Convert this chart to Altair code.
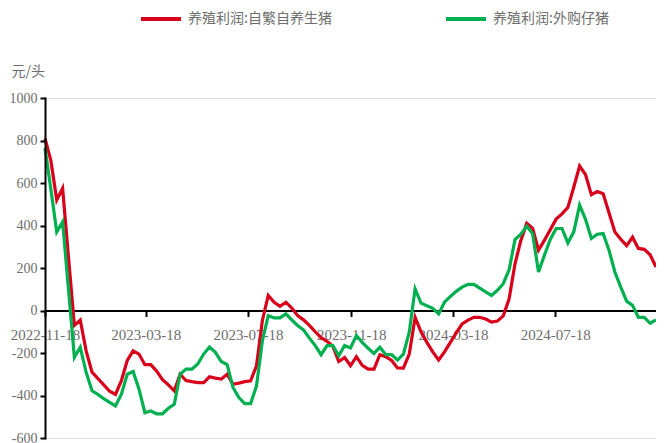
import altair as alt
import pandas as pd

start_date = "2022-11-18"
tick_dates = ["2022-11-18", "2023-03-18", "2023-07-18", "2023-11-18", "2024-03-18", "2024-07-18"]
y_ticks = [-600, -400, -200, 0, 200, 400, 600, 800, 1000]
y_min, y_max = -600, 1000

name_red = "养殖利润:自繁自养生猪"
name_green = "养殖利润:外购仔猪"

red = [810, 705, 520, 575, 250, -70, -45, -190, -290, -320,
       -350, -380, -395, -330, -235, -190, -205, -255, -255, -285,
       -325, -350, -378, -300, -330, -335, -339, -339, -312, -318,
       -323, -300, -347, -342, -335, -331, -260, -47, 71, 39,
       20, 39, 12, -24, -44, -70, -100, -128, -145, -168,
       -240, -221, -260, -217, -258, -276, -276, -208, -217, -235,
       -270, -271, -205, -32, -100, -150, -195, -233, -195, -150,
       -105, -63, -45, -32, -32, -40, -55, -50, -25, 55,
       220, 330, 410, 386, 284, 330, 380, 430, 455, 485,
       580, 680, 640, 545, 560, 550, 460, 370, 335, 305,
       345, 292, 288, 262, 205]

green = [765, 570, 370, 417, 100, -220, -173, -290, -378, -395,
         -415, -432, -449, -394, -300, -287, -370, -481, -473, -486,
         -486, -460, -441, -300, -276, -276, -252, -205, -172, -197,
         -240, -255, -362, -410, -438, -438, -355, -142, -24, -35,
         -35, -16, -44, -71, -91, -130, -165, -208, -165, -165,
         -213, -165, -176, -118, -150, -178, -202, -173, -208, -208,
         -233, -205, -102, 102, 35, 22, 10, -16, 39, 66,
         90, 110, 123, 123, 105, 88, 71, 95, 126, 192,
         334, 359, 397, 362, 181, 260, 334, 386, 386, 318,
         370, 496, 429, 339, 359, 362, 284, 181, 110, 44,
         24, -32, -32, -60, -44]

dates = pd.date_range(start_date, periods=len(red), freq="7D").strftime("%Y-%m-%d").tolist()

df = pd.concat([
    pd.DataFrame({"date": dates, "value": red, "series": name_red}),
    pd.DataFrame({"date": dates, "value": green, "series": name_green}),
])

def dt(s):
    y, m, d = (int(p) for p in s.split("-"))
    return alt.DateTime(year=y, month=m, date=d, utc=True)

W, H = 611, 340
zero_offset = -(H * 600 / 1600)

serif = "Liberation Serif"
cjk = "Noto Sans CJK SC"
gray = "#6e6e6e"

x_scale = alt.Scale(type="utc", domain=[dt(dates[0]), dt(dates[-1])], nice=False)
y_scale = alt.Scale(domain=[y_min, y_max], nice=False, zero=False)

x = alt.X(
    "date:T",
    scale=x_scale,
    axis=alt.Axis(
        values=[dt(s) for s in tick_dates],
        format="%Y-%m-%d",
        title=None,
        grid=False,
        domainColor="#000000",
        domainWidth=2,
        tickColor="#000000",
        tickWidth=2,
        tickSize=6,
        labelPadding=11,
        labelFont=serif,
        labelFontSize=15,
        labelColor=gray,
        labelFlush=False,
        labelOverlap=False,
        offset=zero_offset,
    ),
)

y = alt.Y(
    "value:Q",
    scale=y_scale,
    axis=alt.Axis(
        values=y_ticks,
        labelExpr="'' + datum.value",
        title="元/头",
        titleAngle=0,
        titleAlign="left",
        titleBaseline="middle",
        titleX=-34,
        titleY=-27,
        titleFont=cjk,
        titleFontSize=14,
        titleFontWeight="normal",
        titleColor=gray,
        grid=False,
        domainColor="#000000",
        domainWidth=2,
        domainCap="square",
        tickColor="#000000",
        tickWidth=2,
        tickSize=5,
        labelPadding=3,
        labelFont=serif,
        labelFontSize=14,
        labelColor=gray,
        labelFlush=False,
        labelOverlap=False,
        zindex=2,
    ),
)

color = alt.Color(
    "series:N",
    scale=alt.Scale(domain=[name_red, name_green], range=["#D9001B", "#00B050"]),
    legend=alt.Legend(
        title=None,
        orient="none",
        direction="horizontal",
        legendX=94,
        legendY=-101,
        symbolType="stroke",
        symbolSize=1600,
        symbolStrokeWidth=4,
        labelFont=cjk,
        labelFontSize=14,
        labelColor=gray,
        labelLimit=400,
        labelOffset=5,
        columnPadding=106,
    ),
)

chart = (
    alt.Chart(df)
    .mark_line(strokeWidth=3.2, interpolate="linear")
    .encode(x=x, y=y, color=color, order=alt.Order("date:T"))
    .properties(
        width=W,
        height=H,
        autosize=alt.AutoSizeParams(type="none"),
        padding={"left": 37, "top": 90, "right": 0, "bottom": 5},
    )
    .configure_view(stroke="transparent", strokeWidth=0, strokeOpacity=0)
    .configure_axis(grid=False, gridOpacity=0, domainColor="#000000", tickColor="#000000")
    .configure(background="#ffffff")
)

chart.save("out.html", embed_options={"renderer": "svg", "actions": False})
